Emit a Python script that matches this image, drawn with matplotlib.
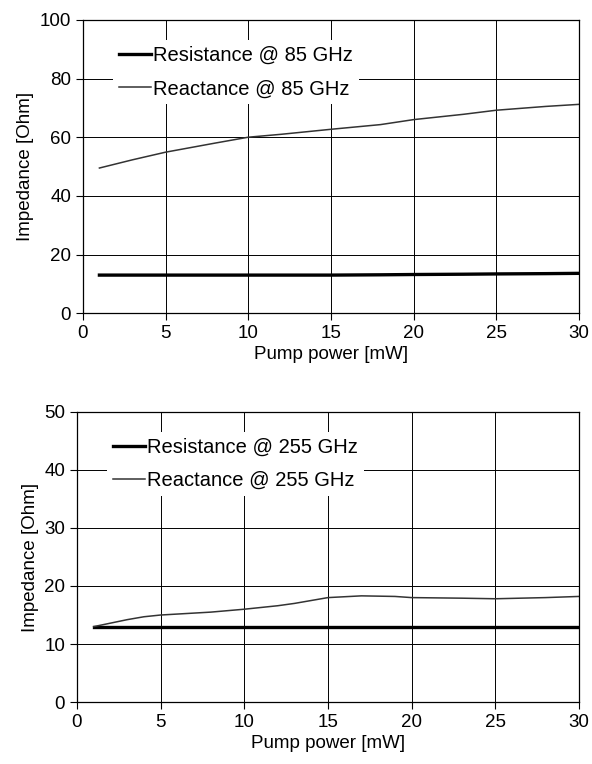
import numpy as np
import matplotlib.pyplot as plt

plt.rcParams['font.family'] = ['Liberation Sans', 'DejaVu Sans']
plt.rcParams['font.size'] = 13

# top chart: 85 GHz
power_85 = [1, 3, 5, 8, 10, 12, 15, 18, 20, 23, 25, 28, 30]
res_85 = [13.0, 13.0, 13.0, 13.0, 13.0, 13.0, 13.0, 13.1, 13.2, 13.3, 13.4, 13.5, 13.6]
xre_85 = [49.5, 52.3, 54.9, 58.0, 60.0, 61.0, 62.7, 64.3, 66.0, 67.8, 69.2, 70.5, 71.2]

# bottom chart: 255 GHz
power_255 = [1, 2, 3, 4, 5, 8, 10, 12, 13, 15, 17, 19, 20, 23, 25, 28, 30]
res_255 = [13.0] * 17
xre_255 = [13.0, 13.6, 14.2, 14.7, 15.0, 15.5, 16.0, 16.6, 17.0, 18.0, 18.3, 18.2, 18.0, 17.9, 17.8, 18.0, 18.2]

xticks = [0, 5, 10, 15, 20, 25, 30]

fig = plt.figure(figsize=(5.92, 7.64), dpi=100)
ax1 = fig.add_axes([0.140, 0.590, 0.838, 0.384])
ax2 = fig.add_axes([0.130, 0.081, 0.848, 0.380])


def style(ax, ymax, ystep):
    ax.set_xlim(0, 30)
    ax.set_ylim(0, ymax)
    ax.set_xticks(xticks)
    ax.set_yticks(np.arange(0, ymax + 1, ystep))
    ax.grid(True, color='black', linewidth=0.7)
    ax.set_axisbelow(True)
    ax.tick_params(direction='out', length=5, width=0.8, labelsize=13.5)
    for s in ax.spines.values():
        s.set_linewidth(0.9)
    ax.set_xlabel('Pump power [mW]', fontsize=13.5, labelpad=3)
    ax.set_ylabel('Impedance [Ohm]', fontsize=13.5, labelpad=4)


def legend(ax):
    leg = ax.legend(loc='upper left', bbox_to_anchor=(0.04, 0.965), frameon=True, fancybox=False,
                    handlelength=1.6, handletextpad=0.1, fontsize=14.5, labelspacing=0.7,
                    borderpad=0.3)
    leg.get_frame().set_edgecolor('none')
    leg.get_frame().set_facecolor('white')
    leg.get_frame().set_alpha(1)


ax1.plot(power_85, res_85, color='black', linewidth=2.4, label='Resistance @ 85 GHz')
ax1.plot(power_85, xre_85, color='#333333', linewidth=1.1, label='Reactance @ 85 GHz')
style(ax1, 100, 20)
legend(ax1)

ax2.plot(power_255, res_255, color='black', linewidth=2.4, label='Resistance @ 255 GHz')
ax2.plot(power_255, xre_255, color='#333333', linewidth=1.1, label='Reactance @ 255 GHz')
style(ax2, 50, 10)
legend(ax2)

fig.savefig('out.png', dpi=100)
